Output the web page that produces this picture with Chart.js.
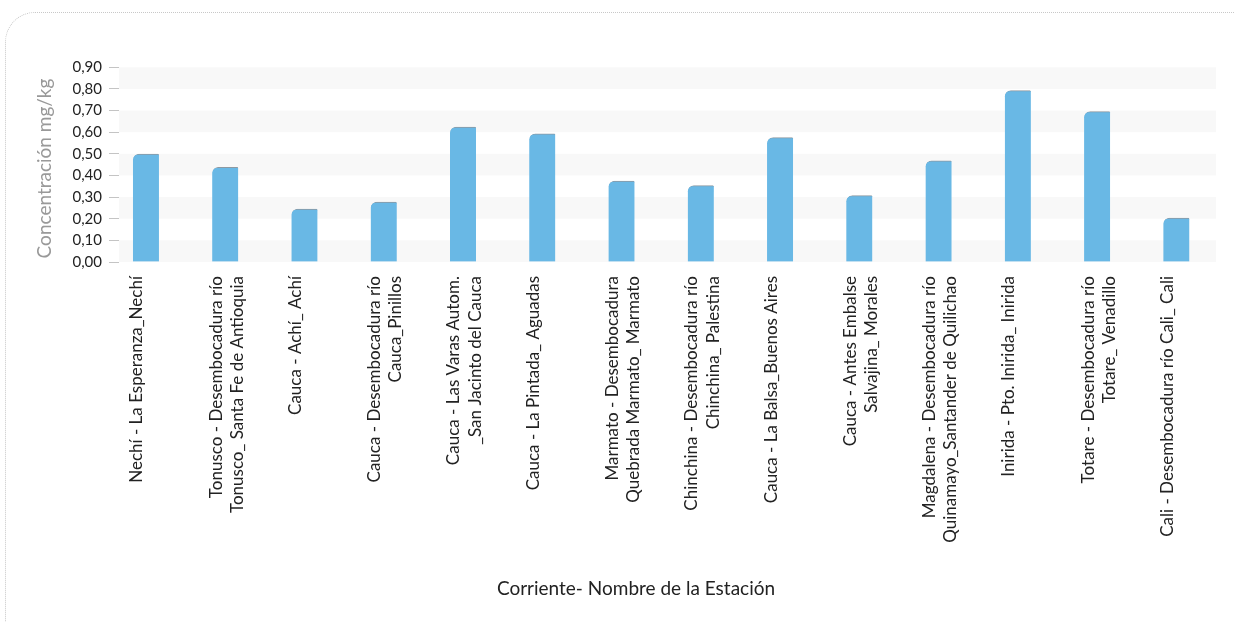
<!DOCTYPE html>
<html>
<head>
<meta charset="utf-8">
<script src="https://cdn.jsdelivr.net/npm/chart.js@4/dist/chart.umd.min.js"></script>
<style>
  html, body { margin: 0; padding: 0; background: #fff; }
  #wrap { position: relative; width: 1235px; height: 622px; overflow: hidden; }
  #frame {
    position: absolute; left: 5px; top: 12px; width: 1260px; height: 700px;
    border: 1px dotted #c8c8c8; border-radius: 30px; box-sizing: border-box;
  }
  #chart { position: absolute; left: 0; top: 0; }
</style>
</head>
<body>
<div id="wrap">
  <div id="frame"></div>
  <canvas id="chart" width="1235" height="622"></canvas>
</div>
<script>
// Estaciones (eje X)
const stations = [
    'Nechí - La Esperanza_Nechí',
    ['Tonusco - Desembocadura río', 'Tonusco_ Santa Fe de Antioquia'],
    'Cauca - Achí_ Achí',
    ['Cauca - Desembocadura río', 'Cauca_Pinillos'],
    ['Cauca - Las Varas Autom.', '_San Jacinto del Cauca'],
    'Cauca - La Pintada_ Aguadas',
    ['Marmato - Desembocadura', 'Quebrada Marmato_ Marmato'],
    ['Chinchina - Desembocadura río', 'Chinchina_ Palestina'],
    'Cauca - La Balsa_Buenos Aires',
    ['Cauca - Antes Embalse', 'Salvajina_ Morales'],
    ['Magdalena - Desembocadura río', 'Quinamayo_Santander de Quilichao'],
    'Inirida - Pto. Inirida_ Inirida',
    ['Totare - Desembocadura río', 'Totare_ Venadillo'],
    'Cali - Desembocadura río Cali_ Cali'
];

// Concentración mg/kg
const concentration = [0.499, 0.438, 0.245, 0.277, 0.624, 0.593, 0.374, 0.353, 0.575, 0.307, 0.468, 0.792, 0.695, 0.203];

const yTicks = [0, 0.1, 0.2, 0.3, 0.4, 0.5, 0.6, 0.7, 0.8, 0.9];
const yMax = 0.92;

const BAR_COLOR = '#69b8e5';
const BAND_COLOR = '#f8f8f8';

// alternating bands behind the bars
const bands = {
    id: 'bands',
    beforeDatasetsDraw(chart) {
        const {ctx, chartArea, scales: {y}} = chart;
        ctx.save();
        ctx.fillStyle = BAND_COLOR;
        for (let i = 0; i < yTicks.length; i += 2) {
            const lo = yTicks[i];
            const hi = i + 1 < yTicks.length ? yTicks[i + 1] : yMax;
            const top = y.getPixelForValue(hi);
            const bottom = y.getPixelForValue(lo);
            ctx.fillRect(chartArea.left, top, chartArea.right - chartArea.left, bottom - top);
        }
        ctx.restore();
    }
};

// axis titles, drawn by hand to place them like the original
const axisTitles = {
    id: 'axisTitles',
    afterDraw(chart) {
        const {ctx, chartArea} = chart;
        ctx.save();
        ctx.font = '19px Lato';
        ctx.textAlign = 'center';
        ctx.textBaseline = 'middle';

        ctx.fillStyle = '#222';
        ctx.fillText('Corriente- Nombre de la Estación', 636, 589);

        ctx.translate(45, (chartArea.top + chartArea.bottom) / 2 + 6);
        ctx.rotate(-Math.PI / 2);
        ctx.fillStyle = '#999';
        ctx.fillText('Concentración mg/kg', 0, 0);
        ctx.restore();
    }
};

const points = concentration.map((v, i) => ({x: i, y: v}));

new Chart(document.getElementById('chart'), {
    type: 'bar',
    data: {
        datasets: [{
            data: points,
            backgroundColor: BAR_COLOR,
            borderColor: '#8d99a2',
            borderWidth: {top: 1, left: 0, right: 0, bottom: 0},
            borderSkipped: 'bottom',
            borderRadius: {topLeft: 6, topRight: 1, bottomLeft: 0, bottomRight: 0},
            barThickness: 26
        }]
    },
    options: {
        responsive: false,
        animation: false,
        layout: {padding: {top: 63, right: 19, bottom: 0, left: 0}},
        plugins: {legend: {display: false}, tooltip: {enabled: false}},
        scales: {
            x: {
                type: 'linear',
                offset: false,
                min: -0.34,
                max: 13.5,
                grid: {display: false},
                border: {display: false},
                afterBuildTicks: s => { s.ticks = stations.map((_, i) => ({value: i})); },
                afterFit: s => { s.height = 360; },
                ticks: {
                    autoSkip: false,
                    minRotation: 90,
                    maxRotation: 90,
                    padding: 6,
                    labelOffset: -9,
                    color: '#222',
                    font: {family: 'Lato', size: 17, lineHeight: 1.25},
                    callback: (v, i) => stations[i]
                }
            },
            y: {
                min: 0,
                max: yMax,
                afterBuildTicks: s => { s.ticks = yTicks.map(v => ({value: v})); },
                afterFit: s => { s.width = 119; },
                grid: {drawOnChartArea: false, tickLength: 10, tickColor: '#c4c4c4'},
                border: {display: false},
                ticks: {
                    padding: 7,
                    color: '#222',
                    font: {family: 'Lato', size: 15},
                    callback: v => v.toFixed(2).replace('.', ',')
                }
            }
        }
    },
    plugins: [bands, axisTitles]
});
</script>
</body>
</html>
